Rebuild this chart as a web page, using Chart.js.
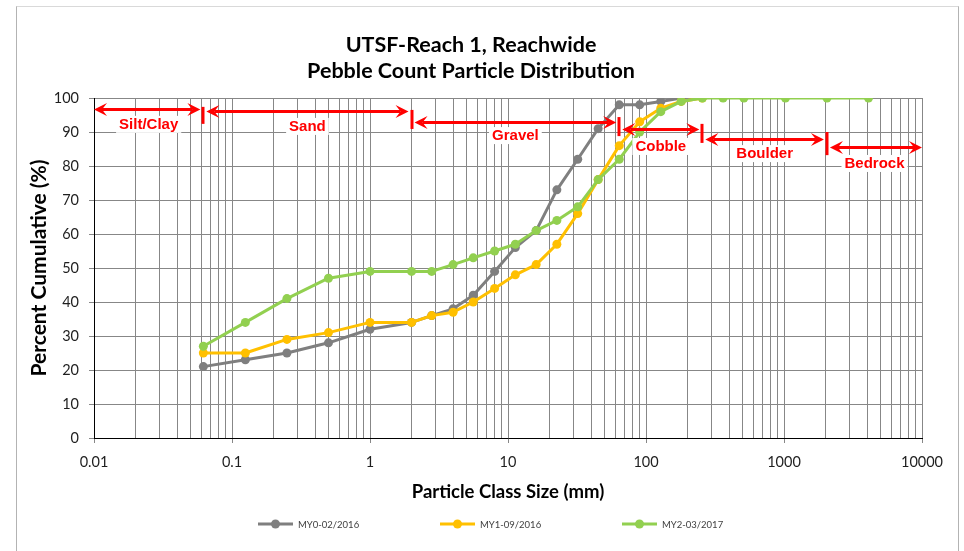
<!DOCTYPE html>
<html>
<head>
<meta charset="utf-8">
<title>UTSF-Reach 1, Reachwide</title>
<script src="https://cdn.jsdelivr.net/npm/chart.js@4.4.0/dist/chart.umd.min.js"></script>
<style>
  body { margin: 0; background: #fff; }
  #wrap { position: relative; width: 964px; height: 551px; overflow: hidden; }
  #frame { position: absolute; left: 16px; top: 6px; width: 941px; height: 580px;
           border: 1px solid #d9d9d9; border-left-color: #b3b3b3; border-right-color: #b3b3b3; }
  canvas { position: absolute; left: 0; top: 0; }
</style>
</head>
<body>
<div id="wrap">
  <div id="frame"></div>
  <canvas id="pebbleChart" width="964" height="551"></canvas>
</div>
<script>
// particle class sizes (mm)
const sizes = [0.062, 0.125, 0.25, 0.5, 1, 2, 2.8, 4, 5.6, 8, 11.3, 16, 22.6, 32, 45, 64, 90, 128, 180, 256, 362, 512, 1024, 2048, 4096];

// percent cumulative
const my0 = [21, 23, 25, 28, 32, 34, 36, 38, 42, 49, 56, 61, 73, 82, 91, 98, 98, 99, 100];
const my1 = [25, 25, 29, 31, 34, 34, 36, 37, 40, 44, 48, 51, 57, 66, 76, 86, 93, 97, 99, 100];
const my2 = [27, 34, 41, 47, 49, 49, 49, 51, 53, 55, 57, 61, 64, 68, 76, 82, 90, 96, 99, 100, 100, 100, 100, 100, 100];

const seriesNames = ['MY0-02/2016', 'MY1-09/2016', 'MY2-03/2017'];
const seriesColors = ['#7f7f7f', '#ffc000', '#92d050'];

const xTickLabels = ['0.01', '0.1', '1', '10', '100', '1000', '10000'];

// size class boundaries and names
const classBounds = [0.01, 0.062, 2, 64, 256, 2048, 10000];
const classNames = ['Silt/Clay', 'Sand', 'Gravel', 'Cobble', 'Boulder', 'Bedrock'];

// where the class arrows sit (in % units of the y axis)
const arrowLevel = [96.8, 96.2, 92.9, 90.9, 87.9, 85.6];
const labelLevel = [92.4, 91.8, 89.1, 85.9, 83.8, 80.9];
const barFrom = [97.4, 96.5, 94.4, 92.4, 90.0];
const barTo = [92.4, 90.9, 88.8, 86.8, 83.2];

function toPoints(vals) {
  return vals.map((v, i) => ({ x: sizes[i], y: v }));
}

function arrowHead(ctx, tipX, yy, dir) {
  ctx.beginPath();
  ctx.moveTo(tipX, yy);
  ctx.lineTo(tipX - dir * 13, yy - 6.5);
  ctx.lineTo(tipX - dir * 8, yy);
  ctx.lineTo(tipX - dir * 13, yy + 6.5);
  ctx.closePath();
  ctx.fill();
}

const classMarks = {
  id: 'classMarks',
  afterDatasetsDraw(chart) {
    const { ctx, scales: { x, y } } = chart;
    ctx.save();
    ctx.strokeStyle = '#ff0000';
    ctx.fillStyle = '#ff0000';
    ctx.lineWidth = 3;
    // boundary bars
    for (let i = 1; i < classBounds.length - 1; i++) {
      const px = Math.round(x.getPixelForValue(classBounds[i]));
      ctx.beginPath();
      ctx.moveTo(px, y.getPixelForValue(barFrom[i - 1]));
      ctx.lineTo(px, y.getPixelForValue(barTo[i - 1]));
      ctx.stroke();
    }
    // arrows
    for (let i = 0; i < classNames.length; i++) {
      const gapL = i === 0 ? 0 : 3;
      const gapR = i === classNames.length - 1 ? 0 : 3;
      const x0 = x.getPixelForValue(classBounds[i]) + gapL;
      const x1 = x.getPixelForValue(classBounds[i + 1]) - gapR;
      const yy = Math.round(y.getPixelForValue(arrowLevel[i])) + 0.5;
      ctx.lineWidth = 3;
      ctx.beginPath();
      ctx.moveTo(x0 + 8, yy);
      ctx.lineTo(x1 - 8, yy);
      ctx.stroke();
      arrowHead(ctx, x0, yy, -1);
      arrowHead(ctx, x1, yy, 1);
    }
    // labels
    ctx.font = 'bold 15px "Liberation Sans", Arial, sans-serif';
    ctx.textAlign = 'center';
    ctx.textBaseline = 'middle';
    for (let i = 0; i < classNames.length; i++) {
      const cx = (x.getPixelForValue(classBounds[i]) + x.getPixelForValue(classBounds[i + 1])) / 2;
      const cy = y.getPixelForValue(labelLevel[i]);
      const w = ctx.measureText(classNames[i]).width;
      ctx.fillStyle = '#ffffff';
      ctx.fillRect(cx - w / 2 - 3, cy - 8, w + 6, 17);
      ctx.fillStyle = '#ff0000';
      ctx.fillText(classNames[i], cx, cy + 1);
    }
    ctx.restore();
  }
};

// legend drawn at bottom, items spaced like the original
const bottomLegend = {
  id: 'bottomLegend',
  afterDraw(chart) {
    const { ctx } = chart;
    const startX = 258, step = 182, ly = 524;
    ctx.save();
    ctx.font = '9.5px Lato, sans-serif';
    ctx.textBaseline = 'middle';
    ctx.textAlign = 'left';
    chart.data.datasets.forEach((ds, i) => {
      const sx = startX + i * step;
      ctx.strokeStyle = ds.borderColor;
      ctx.fillStyle = ds.borderColor;
      ctx.lineWidth = 3;
      ctx.beginPath();
      ctx.moveTo(sx, ly);
      ctx.lineTo(sx + 35, ly);
      ctx.stroke();
      ctx.beginPath();
      ctx.arc(sx + 17.5, ly, 4.5, 0, Math.PI * 2);
      ctx.fill();
      ctx.fillStyle = '#404040';
      ctx.fillText(ds.label, sx + 40, ly + 0.5);
    });
    ctx.restore();
  }
};

const gridGray = '#878787';

const ctx = document.getElementById('pebbleChart').getContext('2d');
new Chart(ctx, {
  type: 'line',
  data: {
    datasets: [
      { label: seriesNames[0], data: toPoints(my0), borderColor: seriesColors[0], backgroundColor: seriesColors[0], order: 3 },
      { label: seriesNames[1], data: toPoints(my1), borderColor: seriesColors[1], backgroundColor: seriesColors[1], order: 2 },
      { label: seriesNames[2], data: toPoints(my2), borderColor: seriesColors[2], backgroundColor: seriesColors[2], order: 1 }
    ]
  },
  options: {
    responsive: false,
    devicePixelRatio: 1,
    animation: false,
    layout: { padding: { left: 20, right: 42, top: 0, bottom: 48 } },
    elements: {
      line: { borderWidth: 3, tension: 0, borderCapStyle: 'round', borderJoinStyle: 'round' },
      point: { radius: 4.5, borderWidth: 0, hoverRadius: 4.5 }
    },
    plugins: {
      legend: { display: false },
      tooltip: { enabled: false },
      title: {
        display: true,
        text: ['UTSF-Reach 1, Reachwide', 'Pebble Count Particle Distribution'],
        color: '#000',
        font: { family: 'Lato', size: 21.5, weight: 'bold', lineHeight: 1.21 },
        padding: { top: 32, bottom: 14 }
      }
    },
    scales: {
      x: {
        type: 'logarithmic',
        min: 0.01,
        max: 10000,
        afterBuildTicks(scale) {
          const t = [];
          for (let e = -2; e <= 4; e++) {
            for (let m = 1; m <= 9; m++) {
              const v = Number((m * Math.pow(10, e)).toPrecision(3));
              if (v <= 10000) t.push({ value: v });
            }
          }
          scale.ticks = t;
        },
        afterFit(scale) { scale.height = 65; },
        ticks: {
          autoSkip: false,
          maxRotation: 0,
          minRotation: 0,
          padding: 11,
          color: '#1f1f1f',
          font: { family: 'Lato', size: 14.5 },
          callback(value) {
            const s = String(value);
            return xTickLabels.includes(s) ? s : '';
          }
        },
        grid: {
          color: gridGray,
          tickLength: 5,
          tickColor: (c) => (c.tick && xTickLabels.includes(String(c.tick.value)) ? gridGray : 'rgba(0,0,0,0)')
        },
        border: { color: '#000', width: 1 },
        title: {
          display: true,
          text: 'Particle Class Size (mm)',
          color: '#000',
          font: { family: 'Lato', size: 18.5, weight: 'bold', lineHeight: 1.2 },
          padding: { top: 0, bottom: 0 }
        }
      },
      y: {
        min: 0,
        max: 100,
        afterFit(scale) { scale.width = 74; },
        ticks: {
          stepSize: 10,
          padding: 10,
          color: '#1f1f1f',
          font: { family: 'Lato', size: 14.5 }
        },
        grid: { color: gridGray, tickLength: 5 },
        border: { color: '#000', width: 1 },
        title: {
          display: true,
          text: 'Percent Cumulative (%)',
          color: '#000',
          font: { family: 'Lato', size: 21, weight: 'bold', lineHeight: 1.2 },
          padding: { top: 7, bottom: 0 }
        }
      }
    }
  },
  plugins: [classMarks, bottomLegend]
});
</script>
</body>
</html>
